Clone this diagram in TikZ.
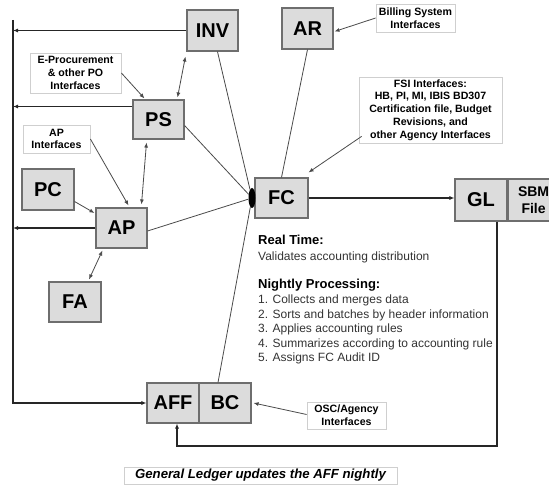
\documentclass[tikz,border=0pt]{standalone}
\usepackage{fontspec}
\setmainfont{Liberation Sans}
\usetikzlibrary{arrows.meta,shapes.geometric,calc}

\definecolor{boxfill}{HTML}{DCDCDC}
\definecolor{boxline}{HTML}{6E6E6E}
\definecolor{noteline}{HTML}{CFCFCF}
\definecolor{wirecol}{HTML}{4A4A4A}
\definecolor{bodytext}{HTML}{333333}

\tikzset{
  sysbox/.style={draw=boxline, fill=boxfill, line width=1.1pt, rectangle, inner sep=0pt,
    minimum width=51pt, minimum height=41pt, font=\fontsize{20}{24}\selectfont\bfseries},
  notebox/.style={draw=noteline, fill=white, line width=0.8pt, rectangle, inner sep=0pt,
    align=center, font=\fontsize{10.6}{12.8}\selectfont\bfseries},
  heading/.style={anchor=base west, inner sep=0pt, font=\fontsize{13}{15}\selectfont\bfseries},
  bodyline/.style={anchor=base west, inner sep=0pt, text=bodytext, font=\fontsize{12}{14}\selectfont},
  bus/.style={line width=1.5pt, draw=black!85},
  wire/.style={line width=0.8pt, draw=wirecol},
  tip/.style={-{Latex[length=5pt,width=4pt]}},
  both/.style={{Latex[length=5pt,width=4pt]}-{Latex[length=5pt,width=4pt]}},
}

\begin{document}
\begin{tikzpicture}[x=1pt, y=-1pt]
\useasboundingbox (0,0) rectangle (549,486);

% system boxes
\node[sysbox] (INV) at (212.5,30.5) {INV};
\node[sysbox] (AR) at (307.5,28.5) {AR};
\node[sysbox, minimum height=39pt] (PS) at (158.5,119.5) {PS};
\node[sysbox, minimum width=52pt] (PC) at (48,189.5) {PC};
\node[sysbox, minimum height=40pt] (AP) at (121.5,228) {AP};
\node[sysbox, minimum width=52pt, minimum height=40pt] (FA) at (75,302) {FA};
\node[sysbox, minimum width=53pt, minimum height=40pt] (FC) at (281.5,198) {FC};
\node[sysbox, minimum width=52pt, minimum height=42pt] (GL) at (481,200) {GL};
\node[sysbox, minimum width=51pt, minimum height=42pt, anchor=west, align=center,
      font=\fontsize{14}{17}\selectfont\bfseries] (SBM) at (GL.east) {SBM\\File};
\node[sysbox, minimum width=52pt, minimum height=40pt] (AFF) at (173,403) {AFF};
\node[sysbox, minimum width=52pt, minimum height=40pt] (BC) at (225,403) {BC};

% connection hub on the left of FC
\node[ellipse, fill=black, minimum width=7pt, minimum height=20pt, inner sep=0pt] (hub) at (252,198) {};

% interface notes
\node[notebox, minimum width=79pt, minimum height=28pt] (billing) at (415.5,18) {Billing System\\Interfaces};
\node[notebox, minimum width=91pt, minimum height=40pt] (eproc) at (75.5,73) {E-Procurement\\\& other PO\\Interfaces};
\node[notebox, minimum width=67pt, minimum height=28pt] (apif) at (56.5,139) {AP\\Interfaces};
\node[notebox, minimum width=143pt, minimum height=66pt] (fsi) at (430.5,110)
  {FSI Interfaces:\\HB, PI, MI, IBIS BD307\\Certification file, Budget\\Revisions, and\\other Agency Interfaces};
\node[notebox, minimum width=79pt, minimum height=27pt] (osc) at (346.5,415.5) {OSC/Agency\\Interfaces};
\node[notebox, minimum width=273pt, minimum height=17pt,
      font=\fontsize{13.2}{15}\selectfont\bfseries\itshape] (caption) at (260.5,475.5)
  {General Ledger updates the AFF nightly};

% FC processing description
\node[heading] (rt) at (258,245) {Real Time:};
\node[bodyline] (rt1) at (258,261) {Validates accounting distribution};
\node[heading] (np) at (258,289) {Nightly Processing:};
\node[bodyline] (np1) at (258,304) {1. Collects and merges data};
\node[bodyline] (np2) at (258,318.5) {2. Sorts and batches by header information};
\node[bodyline] (np3) at (258,333) {3. Applies accounting rules};
\node[bodyline] (np4) at (258,347.5) {4. Summarizes according to accounting rule};
\node[bodyline] (np5) at (258,362) {5. Assigns FC Audit ID};

% feeder bus on the left into AFF
\coordinate (busTop) at (13,20);
\draw[bus,tip] (busTop) |- (AFF.west);
\draw[bus,tip] (INV.west) -- (INV.west -| busTop);
\coordinate (psOut) at ($(PS.west)+(0,-13)$);
\draw[bus,tip] (psOut) -- (psOut -| busTop);
\draw[bus,tip] (AP.west) -- (AP.west -| busTop);

% links between subsystems
\draw[wire,both] ($(INV.south west)+(-1,5)$) -- ($(PS.north)+(19,-2)$);
\draw[wire,tip] (eproc.east) -- ($(PS.north west)+(12,-1)$);
\draw[wire,tip] (apif.east) -- ($(AP.north)+(7,-2)$);
\draw[wire,both] ($(PS.south)+(-12,3)$) -- ($(AP.north)+(20,-3)$);
\draw[wire,tip] ($(PC.east)+(0,12)$) -- ($(AP.west)+(-1,-15)$);
\draw[wire,both] ($(AP.south west)+(7,2)$) -- ($(FA.north)+(14,-2)$);
\draw[wire,tip] (billing.west) -- ($(AR.east)+(1,3)$);
\draw[wire] (AR.south) -- (FC.north);
\draw[wire,tip] ($(fsi.south west)+(3,-7)$) -- ($(FC.north east)+(0,-5)$);

% lines meeting at the hub
\draw[wire] (INV) -- (hub);
\draw[wire] ($(PS.east)+(0,6)$) -- (hub);
\draw[wire] ($(AP.east)+(0,3)$) -- (hub);
\draw[wire] (hub) -- ($(BC.north)+(-7,0)$);

% FC to GL, and GL back to AFF
\draw[bus,tip] (FC.east) -- (FC.east -| GL.west);
\coordinate (glOut) at ($(GL.south)+(16,0)$);
\coordinate (loopCorner) at (497,446);
\draw[bus,tip] (glOut) -- (loopCorner) -| ($(AFF.south)+(4,0)$);

\draw[wire,tip] ($(osc.west)+(0,-1)$) -- ($(BC.east)+(2,0)$);
\end{tikzpicture}
\end{document}
